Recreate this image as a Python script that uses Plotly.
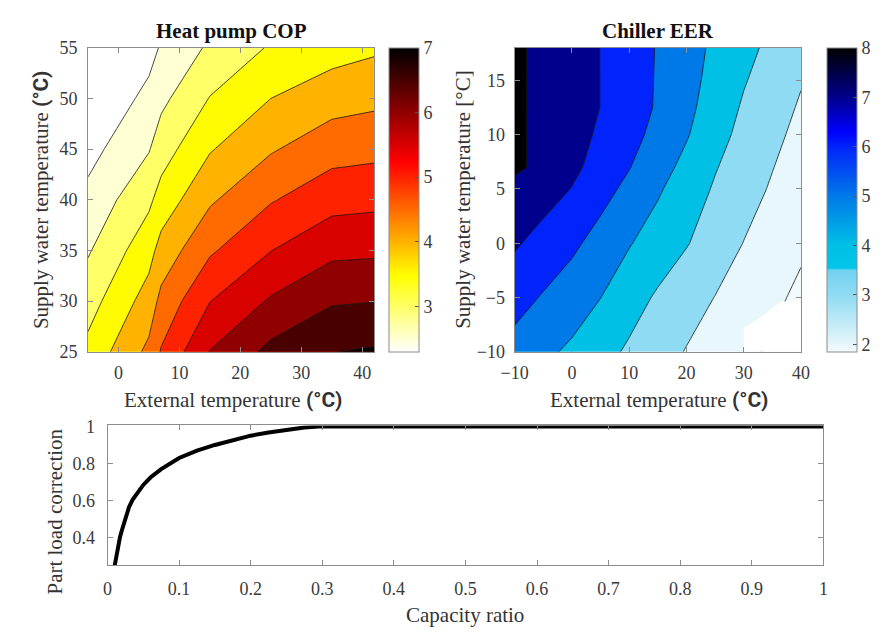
import plotly.graph_objects as go

# ---------------- data ----------------
# Heat pump COP map
hp_ext_temp = [-5, 5, 7, 15, 25, 35, 42]
hp_supply_temp = [25, 30, 35, 40, 45, 50, 55]
hp_cop = [
    [3.64, 4.62, 5.04, 6.02, 6.64, 6.99, 7.06],
    [3.29, 4.22, 4.64, 5.49, 6.06, 6.45, 6.49],
    [2.95, 3.82, 4.19, 4.93, 5.49, 5.88, 5.91],
    [2.64, 3.40, 3.70, 4.43, 4.96, 5.32, 5.37],
    [2.33, 2.97, 3.27, 3.96, 4.45, 4.80, 4.86],
    [2.02, 2.64, 2.88, 3.52, 4.00, 4.29, 4.38],
    [1.72, 2.32, 2.55, 3.08, 3.55, 3.79, 3.92],
]
hp_level_start, hp_level_end, hp_level_step = 2.5, 7.0, 0.5
hp_cbar_range = [2.3, 7.0]
hp_cbar_ticks = [3, 4, 5, 6, 7]
hp_x_ticks = [0, 10, 20, 30, 40]
hp_y_ticks = [25, 30, 35, 40, 45, 50, 55]

# Chiller EER map
ch_ext_temp = [-10, -5, 0, 5, 10, 15, 20, 25, 30, 35, 40]
ch_supply_temp = [-10, -5, 0, 5, 7, 10, 12.5, 15, 18]
ch_eer = [
    [5.65, 5.20, 4.83, 4.35, 3.85, 3.40, 2.95, 2.56, 2.16, 1.90, 1.85],
    [6.37, 5.92, 5.49, 5.01, 4.42, 3.87, 3.42, 2.98, 2.56, 2.15, 1.85],
    [7.12, 6.65, 6.20, 5.63, 5.06, 4.56, 4.06, 3.52, 2.98, 2.56, 2.12],
    [7.68, 7.42, 6.97, 6.36, 5.75, 5.12, 4.50, 3.90, 3.39, 2.90, 2.44],
    [8.21, 7.71, 7.21, 6.65, 6.04, 5.39, 4.73, 4.06, 3.54, 3.03, 2.55],
    [8.18, 7.75, 7.33, 6.87, 6.32, 5.72, 5.08, 4.35, 3.73, 3.23, 2.74],
    [8.16, 7.78, 7.39, 6.99, 6.46, 5.90, 5.24, 4.55, 3.89, 3.39, 2.90],
    [8.16, 7.78, 7.39, 6.99, 6.46, 5.92, 5.32, 4.70, 4.07, 3.56, 3.06],
    [8.16, 7.78, 7.39, 6.99, 6.47, 5.94, 5.38, 4.82, 4.29, 3.76, 3.25],
]
ch_level_start, ch_level_end, ch_level_step = 2.0, 8.0, 1.0
ch_cbar_range = [1.85, 8.0]
ch_cbar_ticks = [2, 3, 4, 5, 6, 7, 8]
ch_x_ticks = [-10, 0, 10, 20, 30, 40]
ch_y_ticks = [-10, -5, 0, 5, 10, 15]
# region without data (outside operating envelope)
ch_nodata_x = [30, 30, 33.5, 36.4, 40, 40]
ch_nodata_y = [-10, -7.8, -6.6, -5.4, -5.2, -10]

# Part load curve
capacity_ratio = [0.01, 0.0125, 0.015, 0.0175, 0.02, 0.025, 0.03, 0.035, 0.04, 0.05,
                  0.06, 0.075, 0.1, 0.125, 0.15, 0.175, 0.2, 0.225, 0.25, 0.275,
                  0.3, 1.0]
part_load_corr = [0.25, 0.31, 0.36, 0.405, 0.44, 0.51, 0.565, 0.605, 0.635, 0.685,
                  0.725, 0.77, 0.83, 0.87, 0.90, 0.925, 0.95, 0.967, 0.982, 0.994,
                  1.0, 1.0]
pl_x_ticks = [0, 0.1, 0.2, 0.3, 0.4, 0.5, 0.6, 0.7, 0.8, 0.9, 1.0]
pl_x_ticktext = ["0", "0.1", "0.2", "0.3", "0.4", "0.5", "0.6", "0.7", "0.8", "0.9", "1"]
pl_y_ticks = [0.4, 0.6, 0.8, 1.0]
pl_y_ticktext = ["0.4", "0.6", "0.8", "1"]

# ---------------- colour maps ----------------
HOT_R = [(0.0, "#ffffff"), (0.25, "#ffff00"), (0.625, "#ff0000"), (1.0, "#000000")]
BLUES = [(1.85, "#f3fafc"), (2.0, "#e8f7fb"), (3.0, "#8fdbf3"), (3.5, "#72d1f0"),
         (3.55, "#00c6e8"), (4.0, "#00c0e6"), (5.0, "#0079e8"), (6.0, "#0024fb"),
         (6.3, "#0000ff"), (7.0, "#00008c"), (8.0, "#000000")]


def hex2rgb(h):
    h = h.lstrip("#")
    return tuple(int(h[i:i + 2], 16) for i in (0, 2, 4))


def color_at(anchors, v):
    if v <= anchors[0][0]:
        return "rgb(%d,%d,%d)" % hex2rgb(anchors[0][1])
    for (v0, c0), (v1, c1) in zip(anchors[:-1], anchors[1:]):
        if v <= v1:
            f = (v - v0) / (v1 - v0)
            a, b = hex2rgb(c0), hex2rgb(c1)
            return "rgb(%d,%d,%d)" % tuple(round(a[i] + f * (b[i] - a[i])) for i in range(3))
    return "rgb(%d,%d,%d)" % hex2rgb(anchors[-1][1])


def scaled(anchors, lo, hi):
    """anchors given in data units -> plotly colorscale (0..1)"""
    return [[(v - lo) / (hi - lo), c] for v, c in anchors]


def fill_scale(anchors_data, start, end, step, cmin):
    """MATLAB-like contourf: each band takes the colour of its lower level."""
    n = int(round((end - start) / step)) + 1
    levels = [start + k * step for k in range(n)]
    cols = [color_at(anchors_data, cmin)] + [color_at(anchors_data, L) for L in levels]
    return [[j / n, c] for j, c in enumerate(cols)]


hp_anchors = [(hp_cbar_range[0] + s * (hp_cbar_range[1] - hp_cbar_range[0]), c) for s, c in HOT_R]
hp_fill = fill_scale(hp_anchors, hp_level_start, hp_level_end, hp_level_step, hp_cbar_range[0])
hp_bar = scaled(hp_anchors, *hp_cbar_range)
ch_fill = fill_scale(BLUES, ch_level_start, ch_level_end, ch_level_step, ch_cbar_range[0])
ch_bar = scaled(BLUES, *ch_cbar_range)

# ---------------- layout helpers ----------------
W, H = 884, 633
SERIF = "Liberation Serif"
TICKC = "#3a3a3a"
AXC = "#8c8c8c"
TICKSIZE = 18


def px(x):
    return x / W


def py(y):
    return 1 - y / H


axis_style = dict(showline=True, linecolor=AXC, linewidth=1, mirror="ticks", ticks="inside",
                  ticklen=5, tickcolor=AXC, showgrid=False, zeroline=False,
                  tickfont=dict(family=SERIF, size=TICKSIZE, color=TICKC))


def cbar(x_left, ticks):
    return dict(x=px(x_left), xanchor="left", y=py(196), yanchor="middle",
                len=314 / H, lenmode="fraction", thickness=30, thicknessmode="pixels",
                xpad=0, ypad=0, outlinecolor=AXC, outlinewidth=1,
                ticks="inside", ticklen=4, tickcolor="#555555", tickvals=ticks,
                tickfont=dict(family=SERIF, size=TICKSIZE, color=TICKC))


fig = go.Figure()

# Heat pump contour (straight-segment contour lines, like the original)
fig.add_trace(go.Contour(
    x=hp_ext_temp, y=hp_supply_temp, z=hp_cop, xaxis="x", yaxis="y",
    autocontour=False,
    contours=dict(start=hp_level_start, end=hp_level_end, size=hp_level_step, coloring="fill"),
    colorscale=hp_fill, showscale=False,
    line=dict(color="rgba(25,25,25,0.8)", width=1, smoothing=0), hoverinfo="skip"))
fig.add_trace(go.Scatter(
    x=[hp_ext_temp[0], hp_ext_temp[0]], y=[hp_supply_temp[0], hp_supply_temp[0]],
    xaxis="x", yaxis="y", mode="markers", hoverinfo="skip", showlegend=False,
    marker=dict(size=1, opacity=0, color=hp_cbar_range, cmin=hp_cbar_range[0], cmax=hp_cbar_range[1],
                colorscale=hp_bar, showscale=True, colorbar=cbar(385, hp_cbar_ticks))))

# Chiller contour
fig.add_trace(go.Contour(
    x=ch_ext_temp, y=ch_supply_temp, z=ch_eer, xaxis="x2", yaxis="y2",
    autocontour=False,
    contours=dict(start=ch_level_start, end=ch_level_end, size=ch_level_step, coloring="fill"),
    colorscale=ch_fill, showscale=False,
    line=dict(color="rgba(25,25,25,0.8)", width=1, smoothing=0), hoverinfo="skip"))
fig.add_trace(go.Scatter(
    x=ch_nodata_x, y=ch_nodata_y, xaxis="x2", yaxis="y2", mode="lines",
    fill="toself", fillcolor="white", line=dict(width=0, color="white"),
    hoverinfo="skip", showlegend=False))
fig.add_trace(go.Scatter(
    x=[ch_ext_temp[0], ch_ext_temp[0]], y=[ch_supply_temp[0], ch_supply_temp[0]],
    xaxis="x2", yaxis="y2", mode="markers", hoverinfo="skip", showlegend=False,
    marker=dict(size=1, opacity=0, color=ch_cbar_range, cmin=ch_cbar_range[0], cmax=ch_cbar_range[1],
                colorscale=ch_bar, showscale=True, colorbar=cbar(835, ch_cbar_ticks))))

# Part load curve
fig.add_trace(go.Scatter(
    x=capacity_ratio, y=part_load_corr, xaxis="x3", yaxis="y3", mode="lines",
    line=dict(color="black", width=4),
    hoverinfo="skip", showlegend=False))

fig.update_layout(
    width=W, height=H, margin=dict(l=0, r=0, t=0, b=0),
    paper_bgcolor="white", plot_bgcolor="white", showlegend=False,
    font=dict(family=SERIF, size=TICKSIZE, color=TICKC),
    xaxis=dict(axis_style, domain=[px(76), px(370)], anchor="y", range=[-5, 42],
               tickvals=hp_x_ticks, ticklabelstandoff=5),
    yaxis=dict(axis_style, domain=[py(353), py(39)], anchor="x", range=[25, 55],
               tickvals=hp_y_ticks, ticklabelstandoff=6),
    xaxis2=dict(axis_style, domain=[px(514), px(808)], anchor="y2", range=[-10, 40],
                tickvals=ch_x_ticks, ticklabelstandoff=5),
    yaxis2=dict(axis_style, domain=[py(353), py(39)], anchor="x2", range=[-10, 18],
                tickvals=ch_y_ticks, ticklabelstandoff=5),
    xaxis3=dict(axis_style, domain=[px(96), px(831)], anchor="y3", range=[0, 1],
                tickvals=pl_x_ticks, ticktext=pl_x_ticktext, ticklabelstandoff=8),
    yaxis3=dict(axis_style, domain=[py(573), py(429)], anchor="x3", range=[0.255, 1.005],
                tickvals=pl_y_ticks, ticktext=pl_y_ticktext, ticklabelstandoff=8),
)

CELS = "<b><span style='font-family:Roboto'>(°C)</span></b>"
title_font = dict(family=SERIF, size=21, color="#111111")
label_font = dict(family=SERIF, size=21, color="#333333")
ann = [
    dict(text="<b>Heat pump COP</b>", x=px(223), y=py(22), font=title_font),
    dict(text="<b>Chiller EER</b>", x=px(661), y=py(22), font=title_font),
    dict(text="External temperature " + CELS, x=px(225), y=py(403), font=label_font),
    dict(text="External temperature " + CELS, x=px(662), y=py(403), font=label_font),
    dict(text="Supply water temperature " + CELS, x=px(28), y=py(196), font=label_font, textangle=-90),
    dict(text="Supply water temperature [°C]", x=px(461), y=py(196), font=label_font, textangle=-90),
    dict(text="Part load correction", x=px(42), y=py(518), font=label_font, textangle=-90),
    dict(text="Capacity ratio", x=px(463), y=py(621), font=label_font, yanchor="top",
         yshift=10),
]
for a in ann:
    a.setdefault("yanchor", "middle")
    fig.add_annotation(xref="paper", yref="paper", xanchor="center",
                       showarrow=False, **a)

fig.write_html("out.html")
